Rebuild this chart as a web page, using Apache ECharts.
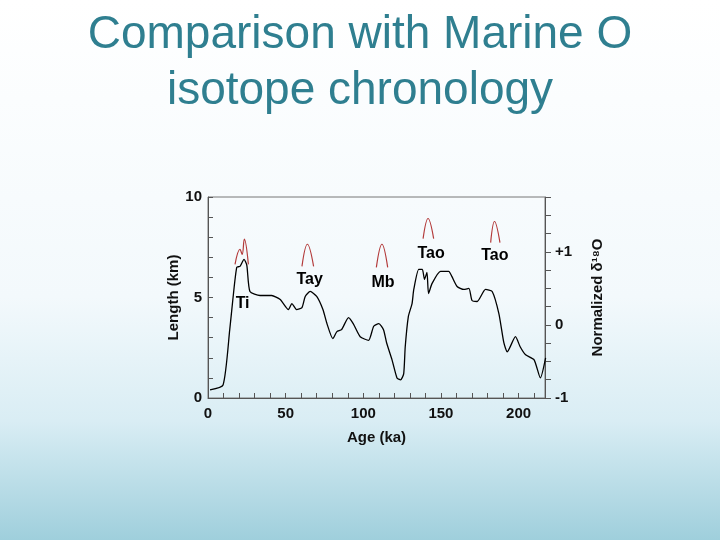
<!DOCTYPE html>
<html><head><meta charset="utf-8">
<script src="https://cdn.jsdelivr.net/npm/echarts@6/dist/echarts.min.js"></script>
<style>
html,body{margin:0;padding:0;}
#c{width:720px;height:540px;background:linear-gradient(180deg,#ffffff 0%,#f3f9fc 55%,#d9edf4 78%,#9fcfdc 100%);}
</style></head><body>
<div id="c"></div>
<script>
// age (ka), length (km)
var ages = [1.3,9.7,14,16,18.5,20.6,23.2,25,27,33.5,41,46.5,51.8,54,57,60.5,62.6,65.8,70,74,76.6,80.4,83,86,90.5,93.5,98,103.4,106.7,110,113,115,118.5,121.7,124,126,127,129,131.4,132.5,135.7,138,139.4,141,142,144.3,149.7,155,157,160.4,164.7,168,170,173.3,178.7,183,187.3,190.5,192.7,198,201,204.5,210,214,217.4];
var lengths = [0.4,0.65,3.4,4.9,6.5,6.55,6.9,6.6,5.3,5.1,5.1,4.9,4.4,4.7,4.4,4.5,5.05,5.3,5.05,4.4,3.7,2.95,3.3,3.4,4.0,3.7,3.05,2.87,3.57,3.7,3.4,2.75,1.9,1.0,0.9,1.2,2.55,4.05,4.7,5.4,6.4,6.4,5.9,6.25,5.2,5.7,6.3,6.3,6.05,5.55,5.4,5.45,4.85,4.8,5.4,5.3,4.2,2.75,2.3,3.05,2.55,2.15,1.9,1.0,2.0];
// red arches (ka, km)
var arches = [
  [[17.4,6.65],[20.6,7.4],[22,7.15],[23.4,7.9],[26,6.65]],
  [[60.5,6.55],[64,7.65],[68,6.55]],
  [[108.4,6.5],[112,7.65],[115.7,6.5]],
  [[138.5,7.93],[141.7,8.93],[145.3,7.93]],
  [[182,7.73],[184.5,8.78],[188,7.73]]
];
var tags = [['Ti',22.6,4.65],['Tay',65.8,5.85],['Mb',113,5.7],['Tao',144,7.15],['Tao',185,7.05]];

var F = 'Liberation Sans';
var lab = {color:'#111',fontFamily:F,fontWeight:'bold',fontSize:15};
var series = [{
  type:'line', data: ages.map(function(a,i){return [a,lengths[i]];}),
  symbol:'none', smooth:0.2, lineStyle:{color:'#000',width:1.3}
}];
arches.forEach(function(a){
  series.push({type:'line',data:a,symbol:'none',smooth:0.4,lineStyle:{color:'#b33a3a',width:1.2}});
});
series.push({
  type:'scatter', symbolSize:1, itemStyle:{opacity:0},
  data: tags.map(function(t){return {value:[t[1],t[2]],name:t[0]};}),
  label:{show:true,position:[0,0],align:'center',verticalAlign:'middle',formatter:'{b}',
    color:'#000',opacity:1,fontFamily:F,fontWeight:'bold',fontSize:16}
});

var chart = echarts.init(document.getElementById('c'));
chart.setOption({
  animation:false,
  title:{text:'Comparison with Marine O\nisotope chronology',left:'center',top:2,
    textStyle:{color:'#2f7f90',fontFamily:F,fontWeight:'normal',fontSize:46,lineHeight:56}},
  grid:{left:208,right:175,top:197,bottom:142,show:true,borderColor:'#777',borderWidth:1},
  xAxis:{type:'value',min:0,max:217,interval:10,
    name:'Age (ka)',nameLocation:'middle',nameGap:32,nameTextStyle:lab,
    axisLine:{lineStyle:{color:'#555'}},axisTick:{inside:true,length:5,lineStyle:{color:'#555'}},
    splitLine:{show:false},
    axisLabel:Object.assign({margin:8,formatter:function(v){return v%50===0?v:'';}},lab)},
  yAxis:[{type:'value',min:0,max:10,interval:1,
    name:'Length (km)',nameLocation:'middle',nameGap:26,nameTextStyle:lab,
    axisLine:{show:true,lineStyle:{color:'#555'}},axisTick:{show:true,inside:true,length:5,lineStyle:{color:'#555'}},
    splitLine:{show:false},
    axisLabel:Object.assign({margin:6,formatter:function(v){return v%5===0?v:'';}},lab)},
   {type:'value',min:-1,max:1.75,interval:0.25,position:'right',
    name:'Normalized δ¹⁸O',nameLocation:'middle',nameGap:45,nameTextStyle:lab,
    axisLine:{show:true,lineStyle:{color:'#555'}},axisTick:{show:true,inside:false,length:6,lineStyle:{color:'#555'}},
    splitLine:{show:false},
    axisLabel:Object.assign({margin:10,formatter:function(v){return v===1?'+1':(v===0||v===-1?String(v):'');}},lab)}],
  series:series
});
</script>
</body></html>
